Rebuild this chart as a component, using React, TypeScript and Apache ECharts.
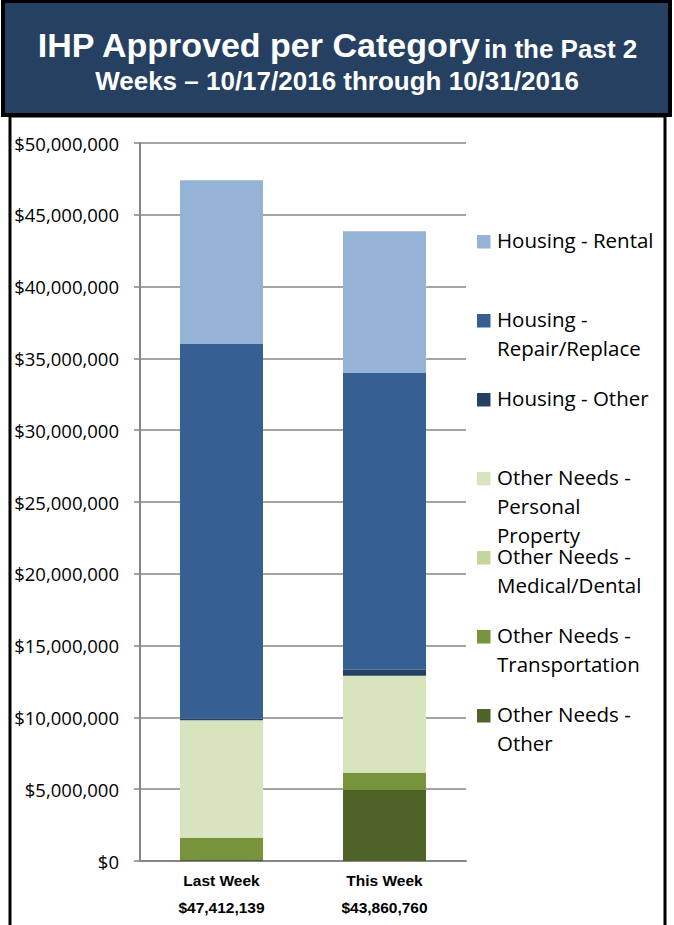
import React, { useEffect, useRef } from "react";
import * as echarts from "echarts";

const categories = ["Last Week", "This Week"];
const totals = [47412139, 43860760];

const seriesNames = [
  "Other Needs - Other",
  "Other Needs - Transportation",
  "Other Needs - Medical/Dental",
  "Other Needs - Personal Property",
  "Housing - Other",
  "Housing - Repair/Replace",
  "Housing - Rental",
];
const otherNeedsOther = [120000, 4950000];
const transportation = [1480000, 1180000];
const medicalDental = [60000, 50000];
const personalProperty = [8150000, 6720000];
const housingOther = [100000, 420000];
const repairReplace = [26100000, 20660000];
const rental = [11402139, 9880760];

const seriesValues = [
  otherNeedsOther,
  transportation,
  medicalDental,
  personalProperty,
  housingOther,
  repairReplace,
  rental,
];
const seriesColors = ["#4F6228", "#77933C", "#C3D69B", "#D7E4BD", "#254061", "#376092", "#95B3D7"];

// legend listed top to bottom (reverse stacking order), with line breaks as in the picture
const legendLabels = [
  "Housing - Rental",
  "Housing -\nRepair/Replace",
  "Housing - Other",
  "Other Needs -\nPersonal\nProperty",
  "Other Needs -\nMedical/Dental",
  "Other Needs -\nTransportation",
  "Other Needs -\nOther",
];
const legendColors = [...seriesColors].reverse();

const yMax = 50000000;
const yStep = 5000000;

const money = (v: number) => "$" + Math.round(v).toLocaleString("en-US");

export default function App() {
  const ref = useRef<HTMLDivElement>(null);
  useEffect(() => {
    if (!ref.current) return;
    const chart = echarts.init(ref.current, null, { renderer: "svg" });
    const bodyFont = "'Open Sans', sans-serif";
    const titleFont = "'Liberation Sans', Arial, sans-serif";
    const legendGraphics: any[] = [];
    legendLabels.forEach((label, i) => {
      const cy = 241.5 + i * 79;
      legendGraphics.push({
        type: "rect",
        shape: { x: 477, y: cy - 6.5, width: 13.5, height: 13.5 },
        style: { fill: legendColors[i] },
      });
      legendGraphics.push({
        type: "text",
        x: 497,
        y: cy - 16,
        style: {
          text: label,
          font: `20.5px ${bodyFont}`,
          lineHeight: 29,
          fill: "#000",
          verticalAlign: "top",
          align: "left",
        },
      });
    });

    chart.setOption({
      animation: false,
      backgroundColor: "#fff",
      grid: { left: 140, right: 208, top: 143, bottom: 64, containLabel: false },
      xAxis: {
        type: "category",
        data: categories,
        axisLine: { show: true, lineStyle: { color: "#868686", width: 2 } },
        axisTick: { show: false },
        axisLabel: {
          margin: 6,
          formatter: (v: string, idx: number) => `{a|${v}}\n{a|${money(totals[idx])}}`,
          rich: {
            a: {
              fontFamily: titleFont,
              fontWeight: "bold",
              fontSize: 15.5,
              lineHeight: 27,
              color: "#000",
            },
          },
        },
      },
      yAxis: {
        type: "value",
        min: 0,
        max: yMax,
        interval: yStep,
        axisLine: { show: true, lineStyle: { color: "#868686", width: 2 } },
        axisTick: { show: true, length: 6, lineStyle: { color: "#868686", width: 1.5 } },
        splitLine: { show: true, lineStyle: { color: "#868686", width: 1.5 } },
        axisLabel: {
          margin: 21,
          formatter: (v: number) => money(v),
          color: "#000",
          fontFamily: bodyFont,
          fontSize: 18.5,
        },
      },
      series: seriesNames.map((name, i) => ({
        name,
        type: "bar",
        stack: "total",
        barWidth: 83,
        data: seriesValues[i],
        itemStyle: { color: seriesColors[i] },
      })),
      graphic: [
        {
          type: "rect",
          z: -10,
          shape: { x: 10, y: 116, width: 655, height: 840 },
          style: { fill: "#fff", stroke: "#000", lineWidth: 3 },
        },
        {
          type: "rect",
          shape: { x: 3, y: 1, width: 667, height: 114 },
          style: { fill: "#254061", stroke: "#000", lineWidth: 4 },
        },
        {
          type: "text",
          x: 337,
          y: 45,
          style: {
            text: "{a|IHP Approved per Category} {b|in the Past 2}",
            align: "center",
            verticalAlign: "middle",
            rich: {
              a: {
                font: `bold 34px ${titleFont}`,
                fill: "#fff",
                verticalAlign: "bottom",
              },
              b: {
                font: `bold 26px ${titleFont}`,
                fill: "#fff",
                verticalAlign: "bottom",
              },
            },
          },
        },
        {
          type: "text",
          x: 337,
          y: 81,
          style: {
            text: "Weeks \u2013 10/17/2016 through 10/31/2016",
            font: `bold 26px ${titleFont}`,
            fill: "#fff",
            align: "center",
            verticalAlign: "middle",
          },
        },
        ...legendGraphics,
      ],
    });
    return () => chart.dispose();
  }, []);
  return (
    <div
      ref={ref}
      style={{ position: "fixed", left: 0, top: 0, width: 674, height: 925 }}
    />
  );
}
